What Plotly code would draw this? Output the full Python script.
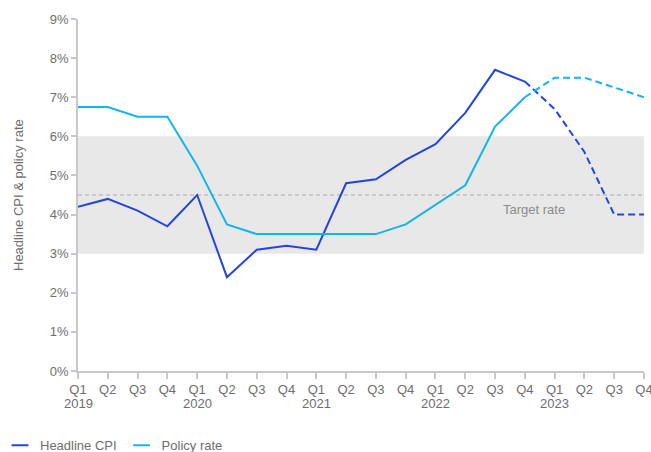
import plotly.graph_objects as go

quarters = ["Q1", "Q2", "Q3", "Q4"]
years = [2019, 2020, 2021, 2022, 2023]
quarter_labels = [q for y in years for q in quarters]

headline_cpi = [4.2, 4.4, 4.1, 3.7, 4.5, 2.4, 3.1, 3.2, 3.1, 4.8,
                4.9, 5.4, 5.8, 6.6, 7.7, 7.4, 6.7, 5.6, 4.0, 4.0]
policy_rate = [6.75, 6.75, 6.5, 6.5, 5.25, 3.75, 3.5, 3.5, 3.5, 3.5,
               3.5, 3.75, 4.25, 4.75, 6.25, 7.0, 7.5, 7.5, 7.25, 7.0]

# last observed index; values after it are projections
last_actual = 15
target_band = (3, 6)
target_rate = 4.5

cpi_color = "#2445dc"
rate_color = "#14b4ee"
grey = "#6e6e6e"
axis_grey = "#c8c8c8"

x = list(range(len(quarter_labels)))

fig = go.Figure()

fig.add_shape(type="rect", xref="paper", yref="y", x0=0, x1=1,
              y0=target_band[0], y1=target_band[1],
              fillcolor="#e8e8e8", line_width=0, layer="below")
fig.add_shape(type="line", xref="paper", yref="y", x0=0, x1=1,
              y0=target_rate, y1=target_rate,
              line=dict(color="#aaaaaa", width=1, dash="4px,3px"), layer="below")
fig.add_annotation(x=15.3, y=target_rate, yshift=-14, text="Target rate",
                   showarrow=False, font=dict(size=13, color="#8c8c8c"),
                   xanchor="center")

for name, vals, color in [("Headline CPI", headline_cpi, cpi_color),
                          ("Policy rate", policy_rate, rate_color)]:
    fig.add_trace(go.Scatter(x=x[:last_actual + 1], y=vals[:last_actual + 1],
                             mode="lines", name=name, showlegend=False,
                             line=dict(color=color, width=2)))
    fig.add_trace(go.Scatter(x=x[last_actual:], y=vals[last_actual:],
                             mode="lines", name=name, showlegend=False,
                             line=dict(color=color, width=2, dash="7px,4px")))
    # short-line legend key
    fig.add_trace(go.Scatter(x=[None], y=[None], mode="markers", name=name,
                             marker=dict(symbol="line-ew", size=12,
                                         line=dict(color=color, width=2))))

# year labels under each Q1 tick
for i, yr in enumerate(years):
    fig.add_annotation(x=i * 4, y=0, yref="paper", yshift=-32, text=str(yr),
                       showarrow=False, xanchor="center", yanchor="middle",
                       font=dict(size=13, color=grey))

fig.add_annotation(x=-0.106, xref="paper", y=0.5, yref="paper",
                   text="Headline CPI & policy rate", textangle=-90,
                   showarrow=False, xanchor="center", yanchor="middle",
                   font=dict(size=13, color=grey))

fig.update_layout(
    width=651, height=452,
    margin=dict(l=78, r=7, t=19, b=81, autoexpand=False),
    paper_bgcolor="white", plot_bgcolor="white",
    font=dict(family="Liberation Sans, Arial, sans-serif", size=13, color=grey),
    showlegend=True,
    legend=dict(orientation="h", xref="container", x=-0.008, xanchor="left",
                yref="container", y=0.015, yanchor="middle",
                font=dict(size=13, color=grey), traceorder="normal",
                tracegroupgap=0, itemwidth=30),
)
fig.update_xaxes(
    range=[0, len(x) - 1], tickmode="array", tickvals=x, ticktext=quarter_labels,
    showline=True, linecolor=axis_grey, linewidth=1.5,
    ticks="outside", ticklen=6, tickcolor=axis_grey, tickwidth=1.5,
    showgrid=False, zeroline=False, tickfont=dict(size=13, color=grey),
    automargin=False, ticklabeloverflow="allow",
)
fig.update_yaxes(
    range=[0, 9], dtick=1, ticksuffix="%",
    showline=True, linecolor=axis_grey, linewidth=1.5,
    ticks="outside", ticklen=5, tickcolor=axis_grey, tickwidth=1.5,
    showgrid=False, zeroline=False, tickfont=dict(size=13, color=grey),
    automargin=False,
)

fig.write_html("out.html")
